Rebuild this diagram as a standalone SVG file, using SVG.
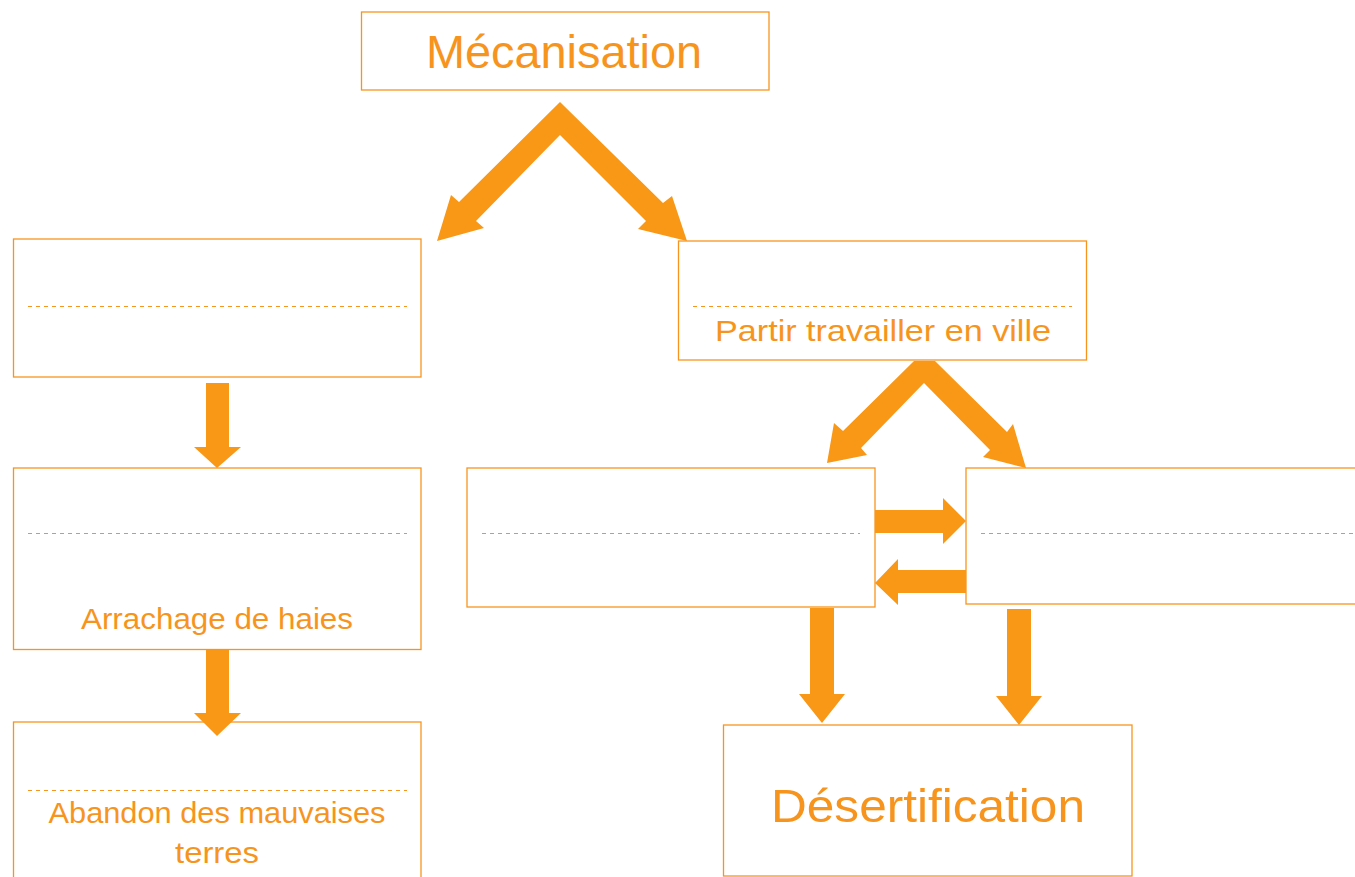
<svg xmlns="http://www.w3.org/2000/svg" width="1355" height="877" viewBox="0 0 1355 877">
<style>
.box{fill:#FFFFFF;stroke:#F7941D;stroke-width:1.3}
.dash{stroke:#F7941D;stroke-width:1;stroke-dasharray:4 4;fill:none}
.arr{fill:#F99716;stroke:none}
.t{fill:#F7941D;font-family:"Liberation Sans",Arial,sans-serif;text-anchor:middle}
</style>
<rect width="1355" height="877" fill="#FFFFFF"/>
<g id="mecanisation">
<rect class="box" x="361.5" y="12" width="407.5" height="78"/>
<text class="t" x="564" y="68" font-size="46" textLength="276" lengthAdjust="spacingAndGlyphs">Mécanisation</text>
</g>
<g id="left1">
<rect class="box" x="13.5" y="239" width="407.5" height="138"/>
<line class="dash" x1="28" y1="306.5" x2="407" y2="306.5"/>
</g>
<g id="partir">
<rect class="box" x="678.5" y="241" width="408" height="119"/>
<line class="dash" x1="693" y1="306.5" x2="1072" y2="306.5"/>
<text class="t" x="883" y="341" font-size="29" textLength="336" lengthAdjust="spacingAndGlyphs">Partir travailler en ville</text>
</g>
<g id="arrachage">
<rect class="box" x="13.5" y="468" width="407.5" height="181.5"/>
<line class="dash" x1="28" y1="533.5" x2="407" y2="533.5"/>
<text class="t" x="217" y="629" font-size="29" textLength="272" lengthAdjust="spacingAndGlyphs">Arrachage de haies</text>
</g>
<g id="abandon">
<rect class="box" x="13.5" y="722" width="407.5" height="200"/>
<line class="dash" x1="28" y1="790.5" x2="407" y2="790.5"/>
<text class="t" x="217" y="823" font-size="29" textLength="337" lengthAdjust="spacingAndGlyphs">Abandon des mauvaises</text>
<text class="t" x="217" y="863" font-size="29" textLength="84" lengthAdjust="spacingAndGlyphs">terres</text>
</g>
<g id="middle">
<rect class="box" x="467" y="468" width="408" height="139"/>
<line class="dash" x1="482" y1="533.5" x2="860" y2="533.5"/>
</g>
<g id="right">
<rect class="box" x="966" y="468" width="420" height="136"/>
<line class="dash" x1="981" y1="533.5" x2="1360" y2="533.5"/>
</g>
<g id="desertification">
<rect class="box" x="723.5" y="725" width="408.5" height="151"/>
<text class="t" x="928" y="822" font-size="47" textLength="314" lengthAdjust="spacingAndGlyphs">Désertification</text>
</g>
<g id="connectors">
<polygon class="arr" points="560,102 663,203 672,196 687,241 638,229 646,221 560,135 476,221 484,228 437,241 451,195 459,202"/>
<polygon class="arr" points="914,361 935,361 1007,432 1013,424 1026,468 983,457 990,450 924,383 861,448 867,455 827,463 834,423 843,431"/>
<polygon class="arr" points="206,383 229,383 229,447 241,447 217,468 194,447 206,447"/>
<polygon class="arr" points="206,650 229,650 229,713 241,713 217,736 194,713 206,713"/>
<polygon class="arr" points="875,510 943,510 943,498 966,521 943,544 943,533 875,533"/>
<polygon class="arr" points="966,570 898,570 898,559 875,583 898,605 898,593 966,593"/>
<polygon class="arr" points="810,608 834,608 834,694 845,694 822,723 799,694 810,694"/>
<polygon class="arr" points="1007,609 1031,609 1031,696 1042,696 1019,725 996,696 1007,696"/>
</g>
</svg>
